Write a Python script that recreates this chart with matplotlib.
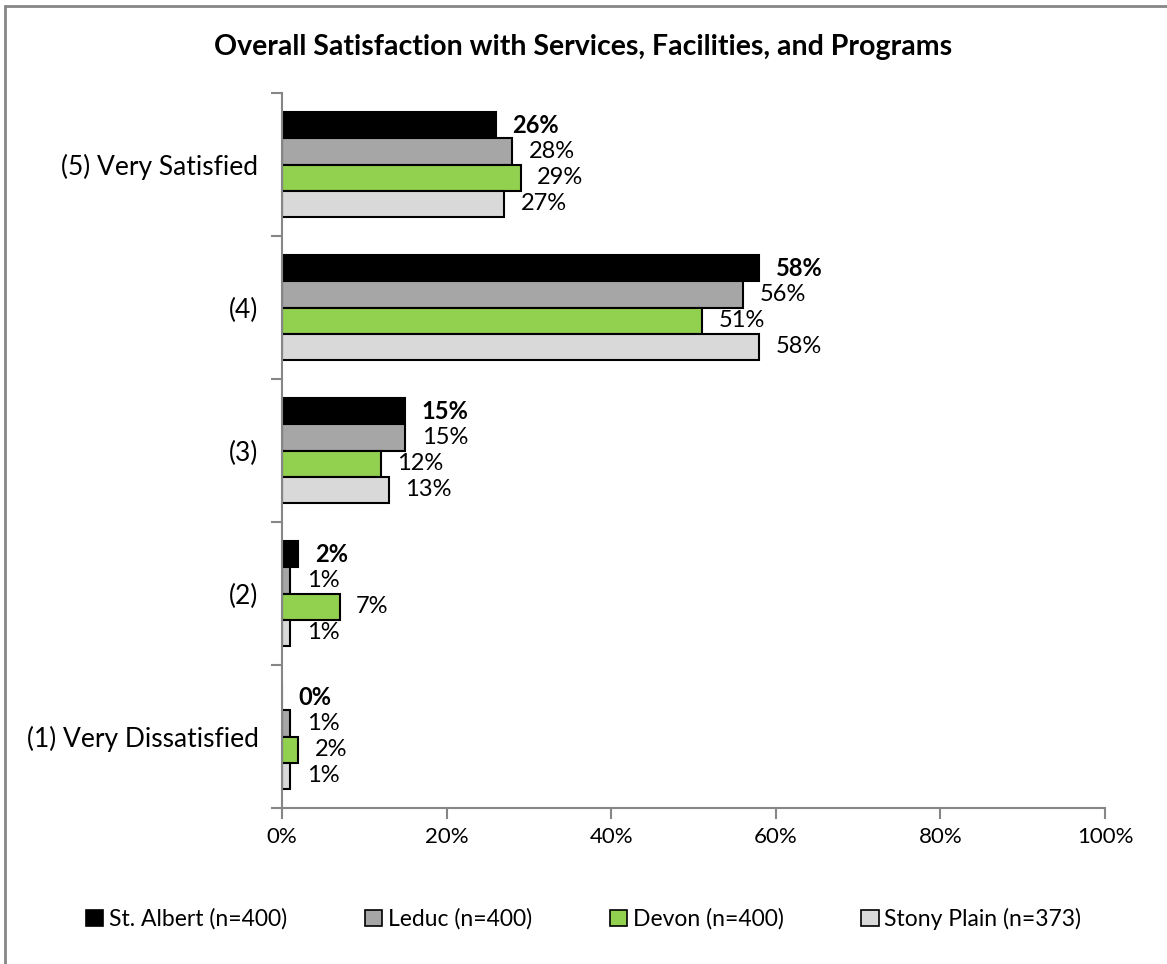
import matplotlib.pyplot as plt
import numpy as np
from matplotlib.patches import Rectangle

plt.rcParams['font.family'] = ['Lato', 'DejaVu Sans']

categories = ['(5) Very Satisfied', '(4)', '(3)', '(2)', '(1) Very Dissatisfied']
series = ['St. Albert (n=400)', 'Leduc (n=400)', 'Devon (n=400)', 'Stony Plain (n=373)']
st_albert = [26, 58, 15, 2, 0]
leduc = [28, 56, 15, 1, 1]
devon = [29, 51, 12, 7, 2]
stony_plain = [27, 58, 13, 1, 1]
colors = ['#000000', '#a6a6a6', '#92d050', '#d9d9d9']

fig = plt.figure(figsize=(11.67, 9.64), dpi=100)
ax = fig.add_axes([282 / 1167, 1 - 808 / 964, (1105 - 282) / 1167, (808 - 93) / 964])

# outer chart frame
fig.patches.append(Rectangle((5 / 1167, -0.01), 1.1, 1 - 6 / 964 + 0.01, transform=fig.transFigure,
                             fill=False, edgecolor='#868686', linewidth=2))

bar_h = 0.182
n = len(categories)
centers = np.arange(n)[::-1].astype(float)
for i, (vals, col) in enumerate(zip([st_albert, leduc, devon, stony_plain], colors)):
    y = centers + (1.5 - i) * bar_h
    ax.barh(y, vals, height=bar_h, color=col, edgecolor='black', linewidth=1.5,
            label=series[i])
    for yy, v in zip(y, vals):
        ax.text(v + 2.0, yy, f'{v}%', va='center', ha='left', fontsize=17,
                fontweight='bold' if i == 0 else 'normal')

ax.set_xlim(0, 100)
ax.set_ylim(-0.5, n - 0.5)
ax.set_xticks(np.arange(0, 101, 20))
ax.set_xticklabels([f'{t}%' for t in range(0, 101, 20)], fontsize=16)
ax.set_yticks(np.arange(-0.5, n, 1.0))
ax.set_yticklabels([])
ax.set_yticks(centers, minor=True)
ax.set_yticklabels(categories, minor=True, fontsize=19)
ax.tick_params(axis='y', which='minor', length=0, pad=17)
ax.tick_params(axis='y', which='major', length=8, color='#868686', width=1.5)
ax.tick_params(axis='x', length=8, color='#868686', width=1.5, pad=6)
for s in ['top', 'right']:
    ax.spines[s].set_visible(False)
for s in ['left', 'bottom']:
    ax.spines[s].set_color('#868686')
    ax.spines[s].set_linewidth(1.5)

fig.text(0.5, 1 - 47 / 964, 'Overall Satisfaction with Services, Facilities, and Programs',
         ha='center', va='center', fontsize=20.5, fontweight='bold')

leg = fig.legend(loc='center', bbox_to_anchor=(0.5, 1 - 919 / 964), ncol=4, frameon=False,
                 fontsize=16.5, handlelength=0.75, handleheight=0.75, handletextpad=0.25,
                 columnspacing=3.4)
for h in leg.legend_handles:
    h.set_linewidth(1.2)

fig.savefig('out.png', dpi=100)
